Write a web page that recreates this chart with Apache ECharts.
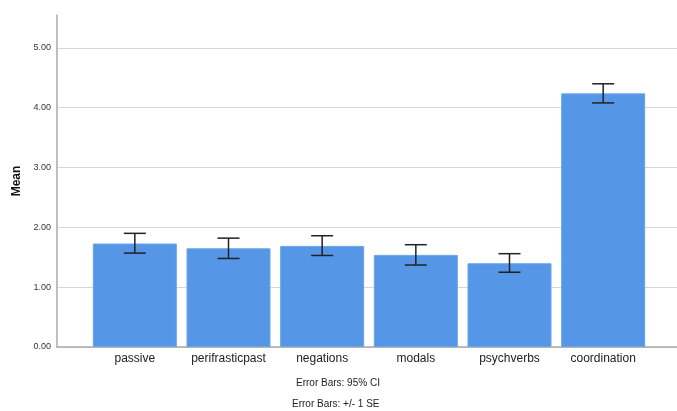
<!DOCTYPE html>
<html>
<head>
<meta charset="utf-8">
<script src="https://cdn.jsdelivr.net/npm/echarts@6/dist/echarts.min.js"></script>
<style>
  html, body { margin: 0; padding: 0; background: #fff; }
  #chart { width: 677px; height: 411px; }
</style>
</head>
<body>
<div id="chart"></div>
<script>
var categories = ['passive', 'perifrasticpast', 'negations', 'modals', 'psychverbs', 'coordination'];
var means = [1.73, 1.65, 1.69, 1.54, 1.40, 4.24];
var lower = [1.57, 1.48, 1.53, 1.37, 1.25, 4.08];
var upper = [1.90, 1.82, 1.86, 1.71, 1.56, 4.40];
var yTicks = [0, 1, 2, 3, 4, 5];

var errData = categories.map(function (c, i) {
  return [i, lower[i], upper[i]];
});

var font = 'Liberation Sans, Arial, sans-serif';
var myChart = echarts.init(document.getElementById('chart'));

// grid 0 carries the long axis lines and gridlines, grid 1 the bars
var option = {
  animation: false,
  textStyle: { fontFamily: font },
  grid: [
    { left: 57, right: 0, top: 15, bottom: 64 },
    { left: 88, right: 27, top: 15, bottom: 64 }
  ],
  xAxis: [
    {
      type: 'category', gridIndex: 0, data: [''],
      axisLine: { lineStyle: { color: '#aaaaaa', width: 1.5 } },
      axisTick: { show: false }, axisLabel: { show: false }
    },
    {
      type: 'category', gridIndex: 1, data: categories,
      axisLine: { show: false }, axisTick: { show: false },
      axisLabel: { interval: 0, color: '#222', fontSize: 12, margin: 6, fontFamily: font }
    }
  ],
  yAxis: [
    {
      type: 'value', gridIndex: 0, min: 0, max: 5.55, interval: 1,
      name: 'Mean', nameLocation: 'middle', nameGap: 31, nameRotate: 90,
      nameTextStyle: { fontWeight: 'bold', fontSize: 12, color: '#111', fontFamily: font },
      axisLine: { show: true, lineStyle: { color: '#aaaaaa', width: 1.5 } },
      axisTick: { show: false },
      axisLabel: {
        fontSize: 9, color: '#333', margin: 6, fontFamily: font,
        formatter: function (v) {
          return yTicks.indexOf(v) >= 0 ? v.toFixed(2) : '';
        }
      },
      splitLine: {
        lineStyle: {
          color: ['#d6d6d6', '#d6d6d6', '#d6d6d6', '#d6d6d6', '#d6d6d6', '#d6d6d6', 'rgba(0,0,0,0)'],
          width: 1
        }
      }
    },
    {
      type: 'value', gridIndex: 1, min: 0, max: 5.55, interval: 1, show: false,
      splitLine: { show: false }
    }
  ],
  series: [
    {
      type: 'bar', xAxisIndex: 1, yAxisIndex: 1,
      data: means, barWidth: 84,
      itemStyle: { color: '#5596e6', borderColor: '#6aa4ec', borderWidth: 1 }
    },
    {
      type: 'custom', xAxisIndex: 1, yAxisIndex: 1,
      data: errData, z: 10,
      renderItem: function (params, api) {
        var x = api.value(0);
        var lo = api.coord([x, api.value(1)]);
        var hi = api.coord([x, api.value(2)]);
        var hw = 11;
        var st = { stroke: '#222', lineWidth: 1.5 };
        return {
          type: 'group',
          children: [
            { type: 'line', shape: { x1: lo[0], y1: lo[1], x2: hi[0], y2: hi[1] }, style: st },
            { type: 'line', shape: { x1: lo[0] - hw, y1: lo[1], x2: lo[0] + hw, y2: lo[1] }, style: st },
            { type: 'line', shape: { x1: hi[0] - hw, y1: hi[1], x2: hi[0] + hw, y2: hi[1] }, style: st }
          ]
        };
      }
    }
  ],
  graphic: [
    { type: 'text', left: 296, top: 378,
      style: { text: 'Error Bars: 95% CI', fontSize: 10, fill: '#222', fontFamily: font } },
    { type: 'text', left: 292, top: 399,
      style: { text: 'Error Bars: +/- 1 SE', fontSize: 10, fill: '#222', fontFamily: font } }
  ]
};

myChart.setOption(option);
</script>
</body>
</html>
